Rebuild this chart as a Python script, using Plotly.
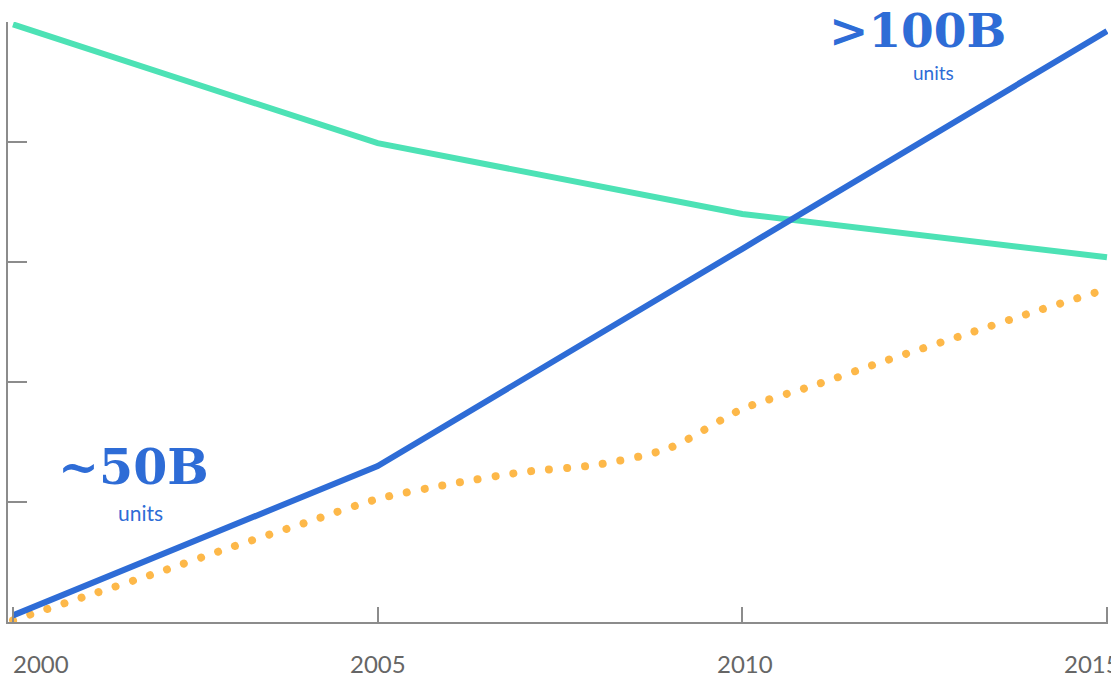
import plotly.graph_objects as go

years = [2000, 2001, 2002, 2003, 2004, 2005, 2006, 2007, 2008, 2009, 2010, 2011, 2012, 2013, 2014, 2015]
yellow_vals = [0.3, 4.3, 8.3, 12.5, 16.5, 20.5, 23.0, 25.0, 26.2, 29.0, 35.5, 39.5, 43.7, 47.7, 51.7, 55.5]

key_years = [2000, 2005, 2010, 2015]
green_vals = [99.6, 79.8, 68.0, 60.8]
blue_vals = [1.1, 26.0, 62.2, 98.5]

tick_years = [2000, 2005, 2010, 2015]
tick_labels = ["2000", "2005", "2010", "2015"]
y_ticks = [0, 20, 40, 60, 80, 100]

GREEN = "#4DE2B5"
BLUE = "#2E6CD6"
YELLOW = "#FDB849"
AXIS = "#8c8c8c"

fig = go.Figure()
fig.add_trace(go.Scatter(x=years, y=yellow_vals, mode="lines",
                         line=dict(color=YELLOW, width=8, dash="2px,16px", shape="spline", smoothing=0.8),
                         hoverinfo="skip", showlegend=False))
fig.add_trace(go.Scatter(x=key_years, y=green_vals, mode="lines",
                         line=dict(color=GREEN, width=6),
                         hoverinfo="skip", showlegend=False))
fig.add_trace(go.Scatter(x=key_years, y=blue_vals, mode="lines",
                         line=dict(color=BLUE, width=6),
                         hoverinfo="skip", showlegend=False))

annotations = []
anchors = [("left", -2), ("center", 0), ("center", 3), ("left", -45)]
for yv, lab, (anc, sh) in zip(tick_years, tick_labels, anchors):
    annotations.append(dict(x=yv, y=0, xref="x", yref="paper", text=lab, showarrow=False,
                            xanchor=anc, yanchor="middle", xshift=sh, yshift=-41,
                            font=dict(family="Lato", size=24, color="#666666")))

callouts = [
    dict(x=2001.65, y=25.8, text="~50B", size=49),
    dict(x=2012.4, y=98.6, text=">100B", size=47),
]
for c in callouts:
    annotations.append(dict(x=c["x"], y=c["y"], xref="x", yref="y", text=c["text"], showarrow=False,
                            xanchor="center", yanchor="middle", borderpad=0,
                            font=dict(family="DejaVu Serif", size=c["size"], color=BLUE, weight=700)))
units = [dict(x=2001.75, y=18.3, size=21), dict(x=2012.62, y=91.6, size=19)]
for u in units:
    annotations.append(dict(x=u["x"], y=u["y"], xref="x", yref="y", text="units", showarrow=False,
                            xanchor="center", yanchor="middle", borderpad=0,
                            font=dict(family="Lato", size=u["size"], color=BLUE)))

fig.update_layout(
    width=1111, height=677,
    margin=dict(l=8, r=3, t=22, b=55, pad=0),
    paper_bgcolor="white", plot_bgcolor="white",
    annotations=annotations,
    xaxis=dict(range=[1999.931, 2015.014], showgrid=False, zeroline=False,
               showline=True, linecolor=AXIS, linewidth=2,
               ticks="inside", ticklen=15, tickwidth=2, tickcolor=AXIS,
               tickvals=tick_years, showticklabels=False),
    yaxis=dict(range=[0, 100], showgrid=False, zeroline=False,
               showline=True, linecolor=AXIS, linewidth=2,
               ticks="inside", ticklen=19, tickwidth=2, tickcolor=AXIS,
               tickvals=y_ticks, showticklabels=False),
)

post = """
var gd = document.getElementById('{plot_id}');
function fixDots(){
  var traces = gd.querySelectorAll('.scatterlayer .trace');
  if (traces.length) {
    traces[0].querySelectorAll('path.js-line').forEach(function(p){
      p.style.strokeLinecap = 'round';
      p.style.strokeDasharray = '0.01px,18px';
    });
  }
}
fixDots();
if (gd.on) { gd.on('plotly_afterplot', fixDots); }
setTimeout(fixDots, 50);
setTimeout(fixDots, 300);
"""
fig.write_html("out.html", post_script=post, config={"displayModeBar": False})
